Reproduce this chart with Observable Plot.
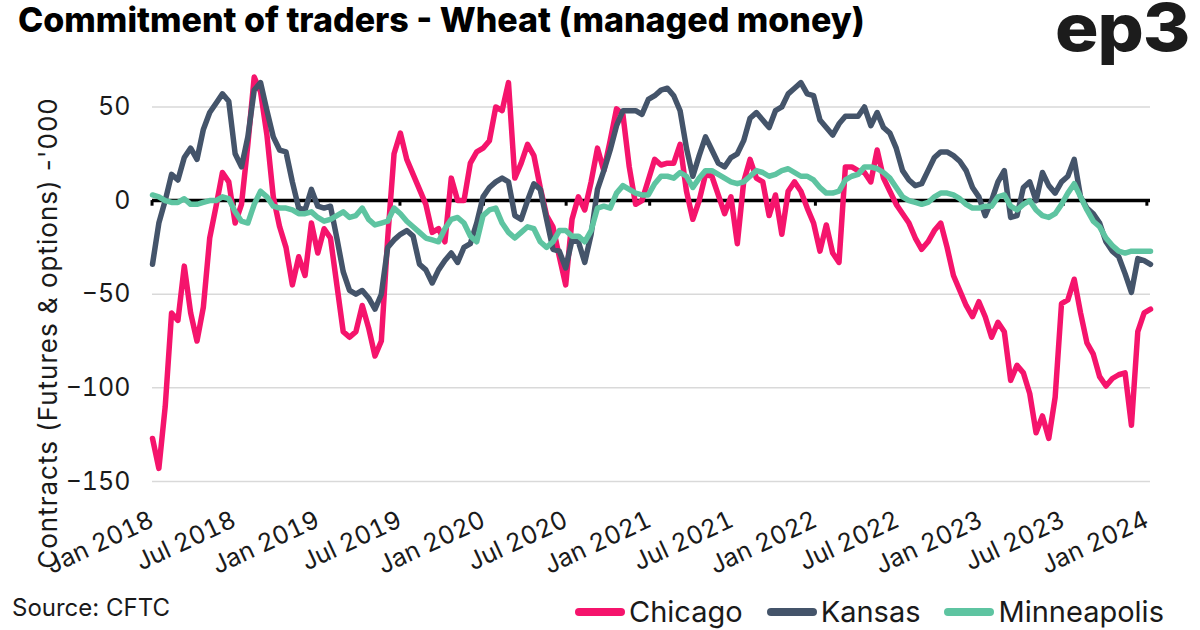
<!DOCTYPE html>
<html><head><meta charset="utf-8">
<script src="https://cdn.jsdelivr.net/npm/d3@7"></script>
<script src="https://cdn.jsdelivr.net/npm/@observablehq/plot@0.6"></script>
<style>
body{margin:0;background:#fff;font-family:Inter,"Open Sans",sans-serif;}
#wrap{position:relative;width:1200px;height:630px;overflow:hidden;background:#fff;}
#chart{position:absolute;left:0;top:0;}
#title{position:absolute;left:18px;top:3px;font-size:34px;font-weight:800;line-height:34px;color:#000;white-space:nowrap;}
#logo{position:absolute;left:1055px;top:2px;font-size:66px;font-weight:800;line-height:50px;color:#1c1c1c;letter-spacing:-1px;white-space:nowrap;transform:scaleX(1.1);transform-origin:left center;}
#source{position:absolute;left:12px;top:596px;font-size:24px;line-height:24px;color:#1a1a1a;white-space:nowrap;}
#legend{position:absolute;left:575px;top:597px;display:flex;align-items:center;font-size:29px;line-height:29px;color:#1a1a1a;white-space:nowrap;}
#ylabel{position:absolute;left:48px;top:333px;font-size:26px;line-height:26px;letter-spacing:1px;color:#1a1a1a;white-space:nowrap;transform:translate(-50%,-50%) rotate(-90deg);}
.item{display:flex;align-items:center;margin-right:24px;}
.sw{width:50px;height:8px;border-radius:4px;margin-right:4px;}
</style></head><body>
<div id="wrap">
  <div id="chart"></div>
  <div id="title">Commitment of traders - Wheat (managed money)</div>
  <div id="logo">ep3</div>
  <div id="ylabel"></div>
  <div id="source">Source: CFTC</div>
  <div id="legend"></div>
</div>
<script>
// Data: fortnightly readings of managed-money net positions ('000 contracts)
const startDate = "2018-01-02";
const stepDays = 14;

const chicago = [
 -127,-143,-110,-60,-64,-35,-60,-75,-57,-20,
 -3,15,10,-12,-2,30,66,58,35,2,
 -14,-25,-45,-30,-40,-12,-28,-15,-20,-45,
 -70,-73,-70,-56,-68,-83,-75,-20,25,36,
 22,14,6,-2,-17,-15,-22,12,0,0,
 20,26,28,32,50,48,63,12,20,30,
 24,7,-8,-14,-30,-45,-10,2,-5,10,
 28,16,32,49,46,18,-2,0,11,22,
 19,20,20,30,5,-10,0,14,13,3,
 -7,2,-23,10,22,12,10,-8,3,-18,
 5,10,5,-4,-12,-27,-13,-28,-33,18,
 18,16,15,10,27,12,5,-2,-7,-12,
 -20,-26,-22,-16,-12,-25,-40,-48,-56,-62,
 -54,-62,-73,-65,-70,-96,-88,-92,-103,-124,
 -115,-127,-105,-55,-53,-42,-60,-76,-82,-94,
 -99,-95,-93,-92,-120,-70,-60,-58
];
const kansas = [
 -34,-12,0,14,11,23,28,22,38,47,
 52,57,53,25,18,34,59,63,48,34,
 27,26,10,-4,-5,6,-3,-4,-3,-20,
 -38,-48,-50,-48,-52,-58,-50,-25,-21,-18,
 -16,-19,-34,-37,-44,-37,-32,-28,-33,-25,
 -23,-12,2,7,10,12,10,-8,-10,0,
 9,6,-10,-26,-27,-36,-21,-22,-33,-18,
 6,16,27,40,48,48,48,46,54,56,
 59,60,56,48,28,13,24,34,27,20,
 18,23,25,32,44,47,43,39,48,50,
 57,60,63,57,56,43,39,35,41,45,
 45,45,50,40,47,39,36,28,16,11,
 8,9,16,23,26,26,24,21,16,7,
 2,-8,0,10,16,-9,-8,7,10,0,
 15,8,4,10,13,22,2,-4,-7,-12,
 -22,-27,-30,-39,-49,-31,-32,-34
];
const minneapolis = [
 3,2,0,-1,-1,1,-2,-2,-1,0,
 0,2,1,-6,-11,-12,-2,5,2,-3,
 -4,-4,-5,-7,-7,-6,-9,-11,-10,-8,
 -6,-9,-8,-4,-10,-13,-12,-11,-4,-7,
 -11,-14,-17,-20,-21,-22,-15,-10,-9,-12,
 -19,-22,-8,-5,-4,-12,-17,-20,-17,-14,
 -15,-22,-25,-22,-16,-16,-19,-19,-22,-16,
 -4,-3,-4,4,8,6,4,3,3,9,
 13,13,12,15,13,7,12,16,16,14,
 12,10,9,10,13,16,15,13,14,16,
 17,15,13,13,11,7,4,4,5,11,
 13,14,18,18,17,15,12,7,2,0,
 -1,-2,-1,2,4,4,3,1,-2,-4,
 -4,-3,-3,2,3,-3,-5,-2,0,-5,
 -8,-9,-7,-2,4,9,2,-5,-11,-14,
 -20,-24,-27,-28,-27,-27,-27,-27
];

const seriesNames = ["Chicago","Kansas","Minneapolis"];
const seriesColors = ["#F5146C","#44546A","#5EC4A1"];
const yTicks = [50,0,-50,-100,-150];
const xTickLabels = ["Jan 2018","Jul 2018","Jan 2019","Jul 2019","Jan 2020","Jul 2020","Jan 2021","Jul 2021","Jan 2022","Jul 2022","Jan 2023","Jul 2023","Jan 2024"];
const yLabel = "Contracts (Futures & options) -'000";

const parseTick = d3.utcParse("%b %Y");
const xTickDates = xTickLabels.map(parseTick);
const t0 = d3.utcParse("%Y-%m-%d")(startDate);
const seriesValues = [chicago, kansas, minneapolis];
const rows = seriesNames.flatMap((name, s) =>
  seriesValues[s].map((v, i) => ({date: d3.utcDay.offset(t0, i * stepDays), value: v, series: name})));

const chart = Plot.plot({
  width: 1200, height: 630,
  marginLeft: 152, marginRight: 50, marginTop: 69, marginBottom: 149,
  style: {fontFamily: "Inter, 'Open Sans', sans-serif", color: "#1a1a1a", background: "transparent", overflow: "visible"},
  x: {type: "utc", domain: d3.extent(rows, d => d.date)},
  y: {domain: [-150, 70]},
  color: {domain: seriesNames, range: seriesColors},
  marks: [
    Plot.ruleY(yTicks.filter(d => d !== 0), {stroke: "#d9d9d9", strokeWidth: 1.5}),
    Plot.ruleY([0], {stroke: "#000", strokeWidth: 3.5}),
    Plot.ruleX(xTickDates, {x: d => d, y1: 0, y2: -3, stroke: "#000", strokeWidth: 3}),
    Plot.line(rows, {x: "date", y: "value", z: "series", stroke: "series", strokeWidth: 5.5, strokeLinejoin: "round", strokeLinecap: "round"}),
    Plot.axisY({ticks: yTicks, tickSize: 0, tickPadding: 22, fontSize: 25, label: null}),
    Plot.axisX({ticks: xTickDates, tickFormat: d3.utcFormat("%b %Y"), tickRotate: -25, tickSize: 0, tickPadding: 37, fontSize: 25, label: null})
  ]
});
document.getElementById("chart").appendChild(chart);
document.getElementById("ylabel").textContent = yLabel;

const legend = document.getElementById("legend");
seriesNames.forEach((name, i) => {
  const item = document.createElement("div");
  item.className = "item";
  const sw = document.createElement("div");
  sw.className = "sw";
  sw.style.background = seriesColors[i];
  const label = document.createElement("span");
  label.textContent = name;
  item.appendChild(sw); item.appendChild(label);
  legend.appendChild(item);
});
</script>
</body></html>
